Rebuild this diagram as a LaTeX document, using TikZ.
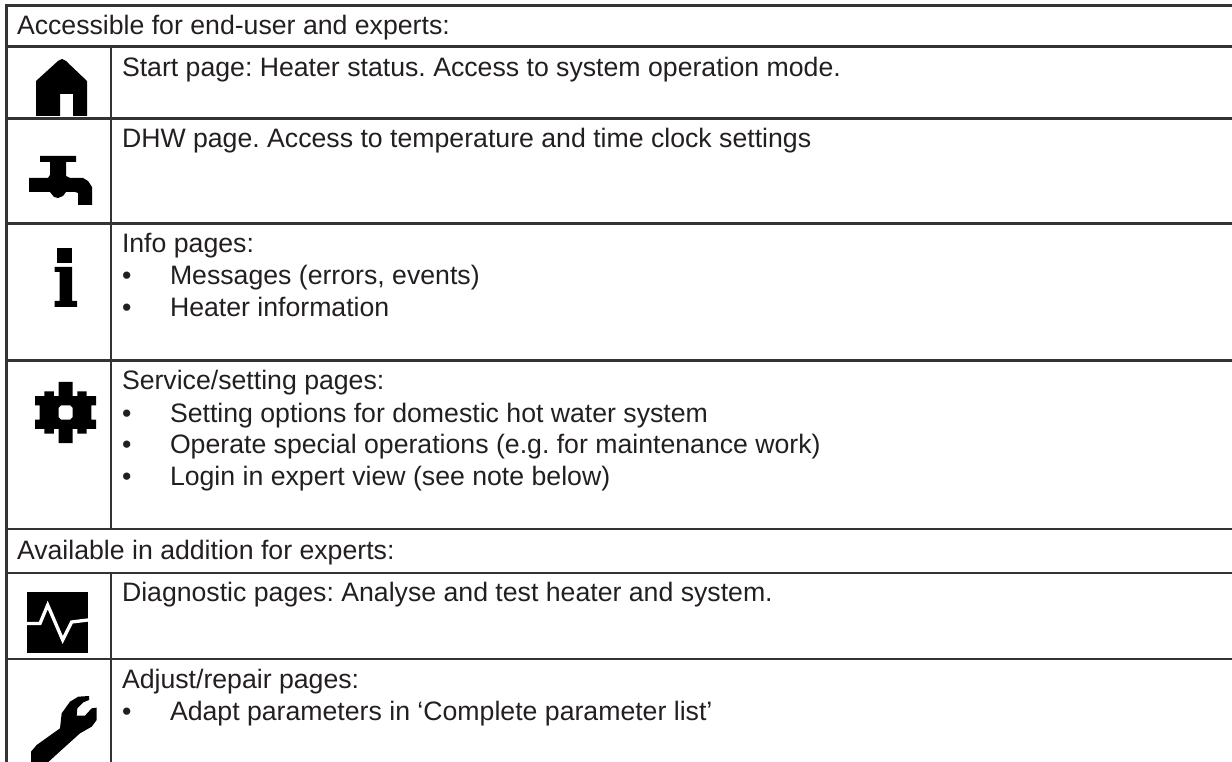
\documentclass[tikz,border=0pt]{standalone}
\usepackage{fontspec}
\setmainfont{Liberation Sans}
\definecolor{ink}{HTML}{231F20}
\definecolor{rule}{HTML}{333333}
\tikzset{x=0.75pt,y=-0.75pt,
  gridline/.style={draw=rule,line width=1.7pt},
  icon/.style={fill=black,draw=none},
  txt/.style={anchor=base west,inner sep=0pt,outer sep=0pt,text=ink,font=\fontsize{20pt}{24pt}\selectfont\frenchspacing}}
\begin{document}
\begin{tikzpicture}
\useasboundingbox (0,0) rectangle (1232,762);
% grid
\coordinate (tl) at (6.5,5.5); \coordinate (bl) at (6.5,762);
\coordinate (dt) at (111,46.5); \coordinate (db1) at (111,529); \coordinate (dt2) at (111,573); \coordinate (db2) at (111,762);
\draw[gridline] (bl) -- (tl) -- (1232,5.5);
\foreach \y in {46.5,118.5,223.5,360.5,529,573,659}{\draw[gridline] (6.5,\y) -- (1232,\y);}
\draw[gridline] (dt) -- (db1);
\draw[gridline] (dt2) -- (db2);
% house
\fill[icon,even odd rule] (62,59) -- (66,61) -- (87,81) -- (87,116) -- (73,116) -- (73,94) -- (60,94) -- (60,116) -- (36,116) -- (36,81) -- (58,61) -- cycle;
% tap
\fill[icon] (40,156) -- (76,156) -- (76,162) -- (66,162) -- (66,176) -- (70,178) -- (83,178) -- (88,181) -- (92,187) -- (92,205) -- (78,205) -- (78,193) -- (75,192) -- (66,192) -- (63,196) -- (58,198) -- (54,197) -- (50,192) -- (29,192) -- (29,178) -- (48,178) -- (50,175) -- (50,162) -- (40,162) -- cycle;
% info
\fill[icon] (57,248) rectangle (72,263);
\fill[icon] (54.5,267) -- (72,267) -- (72,301) -- (77,301) -- (77,307) -- (54.5,307) -- (54.5,301) -- (59.5,301) -- (59.5,272) -- (54.5,272) -- cycle;
% gear
\begin{scope}[shift={(35,382)},x=3.525pt,y=-3.525pt]
\fill[icon,even odd rule] (5,0) -- (8,0) -- (8,3) -- (9,3) -- (9,2) -- (11,2) -- (11,3) -- (13,3) -- (13,5) -- (12,5) -- (12,8) -- (13,8) -- (13,10) -- (11,10) -- (11,11) -- (9,11) -- (9,10) -- (8,10) -- (8,13) -- (5,13) -- (5,10) -- (4,10) -- (4,11) -- (2,11) -- (2,10) -- (0,10) -- (0,8) -- (1,8) -- (1,5) -- (0,5) -- (0,3) -- (2,3) -- (2,2) -- (4,2) -- (4,3) -- (5,3) -- cycle
 (5.5,5) -- (7.5,5) -- (8,5.5) -- (8,7.5) -- (7.5,8) -- (5.5,8) -- (5,7.5) -- (5,5.5) -- cycle;
\end{scope}
% pulse
\fill[icon] (27,592) rectangle (88,652.7);
\draw[white,line width=2.5pt,line join=miter] (27,623.5) -- (40,623.5) -- (47.7,605) -- (62.7,640) -- (71.7,622) -- (88,620);
% wrench
\begin{scope}[shift={(20,685)},x=0.25pt,y=-0.25pt]
\fill[icon] (33,231) -- (33,200) -- (50,180) -- (120,130) -- (125,85) -- (150,50) -- (175,35) -- (207,33) -- (207,45) -- (190,52) -- (172,70) -- (170,92) -- (195,92) -- (215,70) -- (230,68) -- (230,105) -- (215,125) -- (180,145) -- (130,190) -- (85,231) -- cycle;
\end{scope}
% text
\node[txt] (t1) at (17,35) {Accessible for end-user and experts:};
\node[txt] (t2) at (122,77) {Start page: Heater status. Access to system operation mode.};
\node[txt] (t3) at (122,147.5) {DHW page. Access to temperature and time clock settings};
\node[txt] (t4) at (122,253) {Info pages:};
\node[txt] (b1) at (122,285) {•}; \node[txt] (t5) at (170,285) {Messages (errors, events)};
\node[txt] (b2) at (122,317) {•}; \node[txt] (t6) at (170,317) {Heater information};
\node[txt] (t7) at (122,390) {Service/setting pages:};
\node[txt] (b3) at (122,422.5) {•}; \node[txt] (t8) at (170,422.5) {Setting options for domestic hot water system};
\node[txt] (b4) at (122,454) {•}; \node[txt] (t9) at (170,454) {Operate special operations (e.g. for maintenance work)};
\node[txt] (b5) at (122,486) {•}; \node[txt] (t10) at (170,486) {Login in expert view (see note below)};
\node[txt] (t11) at (17,560) {Available in addition for experts:};
\node[txt] (t12) at (122,602) {Diagnostic pages: Analyse and test heater and system.};
\node[txt] (t13) at (122,688) {Adjust/repair pages:};
\node[txt] (b6) at (122,720) {•}; \node[txt] (t14) at (170,720) {Adapt parameters in ‘Complete parameter list’};
\end{tikzpicture}
\end{document}
